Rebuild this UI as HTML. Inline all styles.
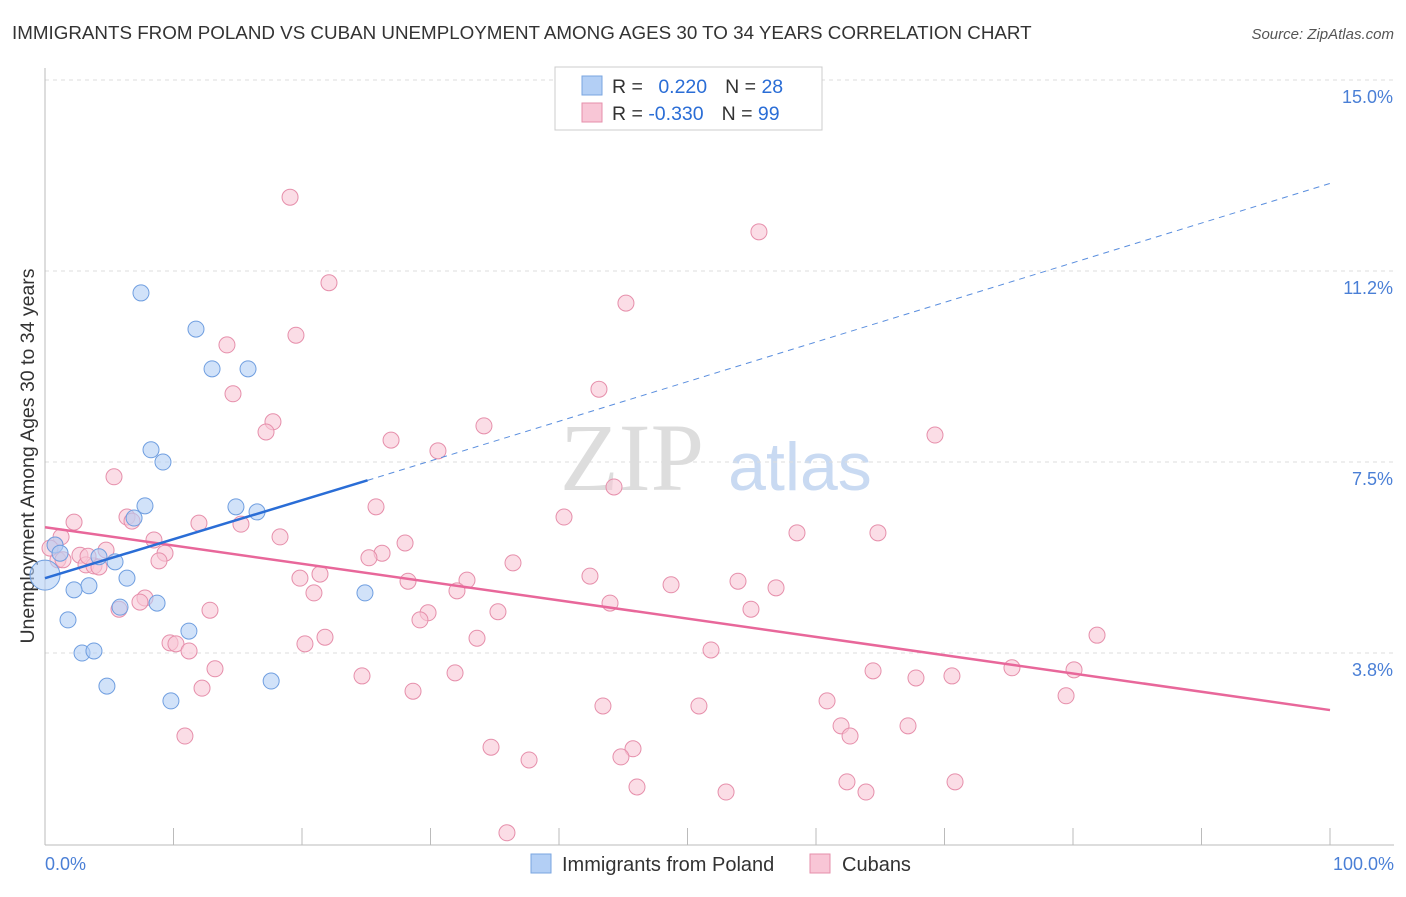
<!DOCTYPE html>
<html><head><meta charset="utf-8"><style>
body{margin:0;background:#fff;font-family:"Liberation Sans",sans-serif}
</style></head><body>
<svg id="c" width="1406" height="892" xmlns="http://www.w3.org/2000/svg" style="font-family:'Liberation Sans',sans-serif">
<text x="12" y="39" font-size="18.8" fill="#333">IMMIGRANTS FROM POLAND VS CUBAN UNEMPLOYMENT AMONG AGES 30 TO 34 YEARS CORRELATION CHART</text>
<text x="1394" y="39" font-size="15" fill="#555" text-anchor="end" font-style="italic">Source: ZipAtlas.com</text>
<text x="632" y="490" font-size="96" fill="#ddd" text-anchor="middle" font-family="Liberation Serif,serif">ZIP</text>
<text x="800" y="490" font-size="68" fill="#c9daf2" text-anchor="middle">atlas</text>
<text transform="translate(34,456) rotate(-90)" font-size="19.5" fill="#333" text-anchor="middle">Unemployment Among Ages 30 to 34 years</text>
<g id="grid"></g><g id="marks"></g>
<g>
<rect x="555" y="67" width="267" height="63" fill="#fff" stroke="#ccc"/>
<rect x="582" y="76" width="20" height="19" fill="#b3cff5" stroke="#7aa6e0"/>
<rect x="582" y="103" width="20" height="19" fill="#f8c6d6" stroke="#e68fab"/>
<text x="612" y="93" font-size="19.5" fill="#333">R = <tspan fill="#2a6dd6" dx="10">0.220</tspan><tspan dx="18">N = </tspan><tspan fill="#2a6dd6">28</tspan></text>
<text x="612" y="120" font-size="19.5" fill="#333">R = <tspan fill="#2a6dd6">-0.330</tspan><tspan dx="18">N = </tspan><tspan fill="#2a6dd6">99</tspan></text>
</g>
<g>
<rect x="531" y="854" width="20" height="19" fill="#b3cff5" stroke="#7aa6e0"/>
<text x="562" y="871" font-size="20" fill="#333">Immigrants from Poland</text>
<rect x="810" y="854" width="20" height="19" fill="#f8c6d6" stroke="#e68fab"/>
<text x="842" y="871" font-size="20" fill="#333">Cubans</text>
</g>
</svg>
<script>
const yTicks=[15.0,11.25,7.5,3.75];
const yTickLabels=["15.0%","11.2%","7.5%","3.8%"];
const xLabels=["0.0%","100.0%"];
const polandX=[7.47,11.75,13.0,15.8,8.25,9.18,7.78,14.86,16.5,6.93,0.78,1.17,4.2,5.45,6.38,3.42,2.26,8.72,5.84,24.9,1.79,11.2,2.88,3.81,4.82,17.6,9.8];
const polandY=[10.82,10.11,9.33,9.33,7.74,7.50,6.64,6.62,6.52,6.40,5.87,5.71,5.64,5.54,5.22,5.07,4.99,4.73,4.65,4.93,4.40,4.18,3.75,3.79,3.10,3.20,2.81];
const polandBig=[0,5.28];
const cubaX=[19.07,55.56,22.10,45.21,19.53,14.16,14.63,43.11,17.74,17.20,34.16,26.93,30.58,69.26,5.37,44.28,25.76,40.39,6.38,6.77,2.26,11.98,15.25,1.25,8.48,18.29,58.52,64.82,0.78,28.02,9.34,4.75,2.72,26.23,25.21,8.87,36.42,3.19,3.81,4.20,1.01,21.40,19.84,42.41,53.93,32.84,28.25,48.72,56.89,20.93,32.06,7.78,7.39,43.97,5.76,54.94,12.84,35.25,29.81,29.18,21.79,20.23,33.62,9.73,10.19,11.21,51.83,13.23,24.67,31.91,64.44,67.78,70.58,75.25,80.08,81.87,12.22,28.64,79.46,60.86,43.42,50.89,67.16,61.95,62.65,10.89,34.71,45.76,44.82,37.67,62.41,70.82,46.07,53.00,63.89,35.95,1.40,0.39,3.35];
const cubaY=[12.70,12.02,11.02,10.62,9.99,9.80,8.84,8.93,8.29,8.09,8.21,7.93,7.72,8.03,7.21,7.01,6.62,6.42,6.42,6.34,6.32,6.30,6.28,6.03,5.97,6.03,6.11,6.11,5.87,5.91,5.71,5.77,5.67,5.71,5.62,5.56,5.52,5.48,5.46,5.44,5.58,5.30,5.22,5.26,5.16,5.18,5.16,5.09,5.03,4.93,4.97,4.83,4.75,4.73,4.61,4.61,4.59,4.56,4.54,4.40,4.06,3.93,4.04,3.95,3.93,3.79,3.81,3.44,3.30,3.36,3.40,3.26,3.30,3.46,3.42,4.10,3.06,3.00,2.91,2.81,2.71,2.71,2.32,2.32,2.12,2.12,1.90,1.87,1.71,1.65,1.22,1.22,1.12,1.02,1.02,0.22,5.58,5.81,5.65];
const polandTrend=[5.22,7.14,12.97];
const polandTrendX=[0,25.1,100];
const cubaTrend=[6.22,2.63];
const NS="http://www.w3.org/2000/svg";
const X=v=>45+v*12.85, Y=v=>844-v*50.93;
function mk(t,a,p){const e=document.createElementNS(NS,t);for(const k in a)e.setAttribute(k,a[k]);p.appendChild(e);return e;}
const g=document.getElementById('grid'),m=document.getElementById('marks');
yTicks.forEach((v,i)=>{
 const l=mk('line',{x1:45,x2:1394,y1:Y(v),y2:Y(v),stroke:'#ddd','stroke-dasharray':'4,4'},g);
 
 
 const t=mk('text',{x:1393,y:Y(v)+23,'font-size':18,fill:'#4a7fd6','text-anchor':'end'},g);
 t.textContent=yTickLabels[i];
 
 
});
const ax=mk('line',{x1:45,x2:1394,y1:845,y2:845,stroke:'#bbb'},g);


const ay=mk('line',{x1:45,x2:45,y1:68,y2:845,stroke:'#bbb'},g);


for(let i=0;i<=10;i++){const t=mk('line',{x1:X(i*10),x2:X(i*10),y1:828,y2:845,stroke:'#bbb'},g);
 
 }
[[0,'start',45],[1,'end',1394]].forEach(([i,a,x])=>{const t=mk('text',{x:x,y:870,'font-size':18,fill:'#4a7fd6','text-anchor':a},g);t.textContent=xLabels[i];
 
 });
cubaX.forEach((v,i)=>{const c=mk('circle',{cx:X(v),cy:Y(cubaY[i]),r:8,fill:'#f8c6d6','fill-opacity':0.6,stroke:'#e68fab','stroke-width':1},m);
 
 });
polandX.forEach((v,i)=>{const c=mk('circle',{cx:X(v),cy:Y(polandY[i]),r:8,fill:'#b3cff5','fill-opacity':0.6,stroke:'#6f9ee0','stroke-width':1},m);
 
 });
const bb=mk('circle',{cx:X(polandBig[0]),cy:Y(polandBig[1]),r:15,fill:'#b3cff5','fill-opacity':0.6,stroke:'#6f9ee0'},m);


const pl=mk('line',{x1:X(0),y1:Y(cubaTrend[0]),x2:X(100),y2:Y(cubaTrend[1]),stroke:'#e8679a','stroke-width':2.5},m);


const bl=mk('line',{x1:X(polandTrendX[0]),y1:Y(polandTrend[0]),x2:X(polandTrendX[1]),y2:Y(polandTrend[1]),stroke:'#2a6dd6','stroke-width':2.5},m);


const bd=mk('line',{x1:X(polandTrendX[1]),y1:Y(polandTrend[1]),x2:X(polandTrendX[2]),y2:Y(polandTrend[2]),stroke:'#5a8ede','stroke-width':1,'stroke-dasharray':'6,5'},m);


</script>
</body></html>
